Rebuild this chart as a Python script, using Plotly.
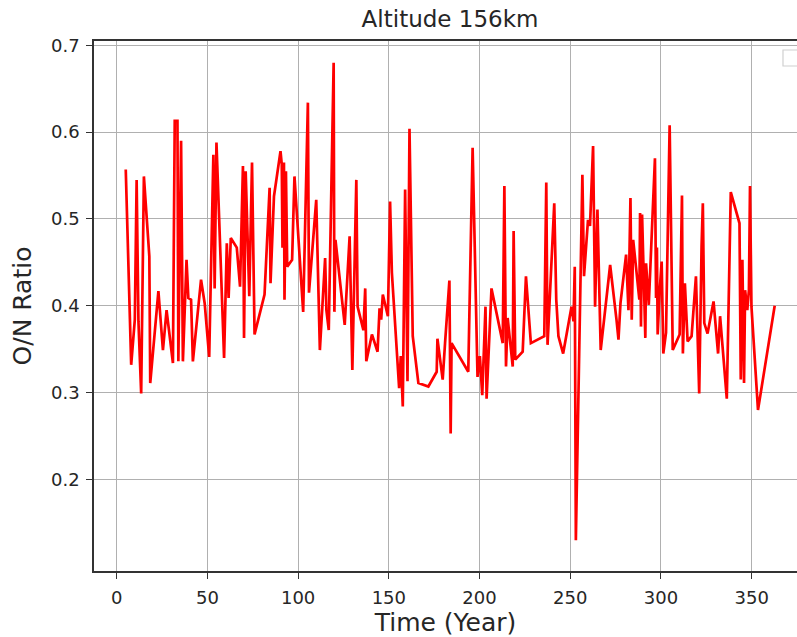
import plotly.graph_objects as go

# O/N ratio series at 156 km altitude
time_year = [
    5, 8, 10, 11, 12, 13.5, 15, 18, 18.5, 23, 25.5, 27.5, 31, 32, 33.5, 34, 35.5, 36.5,
    38.5, 39.5, 41, 42, 46.5, 48.5, 51, 53.3, 54, 55, 59.2, 60.7, 61.7, 62.9, 66.2, 68,
    69.6, 70.2, 71.1, 73.1, 74.6, 76, 81.5, 84.3, 84.8, 86.7, 90.3, 91, 91.4, 92.2, 92.5,
    93.3, 94, 96.7, 98, 102.8, 105.4, 106, 110, 112, 114.9, 115.6, 116.9, 119.6, 120,
    120.6, 125.7, 128.4, 129.9, 132.1, 132.8, 136, 137, 137.6, 140.7, 143.8, 144.9, 145.8,
    146.7, 149.5, 150.7, 151.7, 155.7, 156.6, 157.7, 159, 160.3, 161.4, 163.2, 166.3,
    171.8, 176.4, 176.8, 179.7, 181, 183.4, 184.1, 184.6, 193.8, 196.2, 198.9, 200.2,
    201.5, 203.3, 203.9, 206.6, 212.8, 213.7, 214.6, 215.5, 218.3, 218.8, 219.7, 223.8,
    225.6, 228.3, 235.7, 236.8, 237.5, 241.2, 242.3, 243.5, 246.1, 250.7, 251.8, 252.5,
    253.1, 256.7, 257.6, 259.8, 260.9, 262.6, 263.7, 265, 266.8, 272, 275.5, 276.6, 277.7,
    280.8, 282.1, 283.2, 283.9, 284.7, 288.1, 288.5, 289, 289.6, 290.9, 291.4, 291.8,
    293.3, 296.7, 297.3, 297.8, 298.2, 299.3, 300.4, 301.3, 302.8, 304.8, 306.5, 310.3,
    311.6, 312.1, 313.2, 314.7, 316.9, 319.3, 321.1, 322.4, 323.1, 323.9, 325.7, 329,
    330.3, 331.5, 332.6, 336.3, 338.5, 343.3, 344, 344.9, 345.8, 346.4, 347.6, 348.5,
    349.1, 349.9, 353.5, 362.7,
]
on_ratio = [
    0.557, 0.332, 0.384, 0.545, 0.382, 0.299, 0.549, 0.457, 0.311, 0.417, 0.349, 0.395,
    0.334, 0.613, 0.613, 0.336, 0.590, 0.336, 0.453, 0.409, 0.407, 0.336, 0.430, 0.403,
    0.341, 0.574, 0.420, 0.588, 0.340, 0.472, 0.409, 0.478, 0.467, 0.422, 0.561, 0.363,
    0.555, 0.411, 0.565, 0.367, 0.413, 0.536, 0.426, 0.526, 0.578, 0.563, 0.467, 0.565,
    0.407, 0.555, 0.445, 0.453, 0.549, 0.393, 0.634, 0.415, 0.522, 0.349, 0.455, 0.395,
    0.372, 0.680, 0.393, 0.476, 0.378, 0.480, 0.326, 0.545, 0.399, 0.372, 0.420, 0.336,
    0.367, 0.347, 0.397, 0.384, 0.413, 0.388, 0.520, 0.438, 0.305, 0.342, 0.284, 0.534,
    0.313, 0.604, 0.365, 0.311, 0.307, 0.324, 0.362, 0.315, 0.357, 0.429, 0.253, 0.357,
    0.324, 0.582, 0.318, 0.342, 0.297, 0.399, 0.293, 0.420, 0.357, 0.538, 0.330, 0.386,
    0.330, 0.486, 0.338, 0.347, 0.434, 0.357, 0.365, 0.542, 0.355, 0.518, 0.407, 0.365,
    0.345, 0.399, 0.382, 0.445, 0.130, 0.551, 0.434, 0.499, 0.492, 0.584, 0.399, 0.511,
    0.349, 0.447, 0.384, 0.361, 0.403, 0.459, 0.395, 0.524, 0.384, 0.476, 0.407, 0.507,
    0.376, 0.505, 0.403, 0.363, 0.449, 0.401, 0.570, 0.409, 0.467, 0.367, 0.417, 0.451,
    0.345, 0.369, 0.608, 0.349, 0.367, 0.527, 0.345, 0.426, 0.359, 0.365, 0.434, 0.299,
    0.468, 0.518, 0.380, 0.368, 0.405, 0.372, 0.345, 0.388, 0.293, 0.531, 0.495, 0.315,
    0.453, 0.311, 0.418, 0.395, 0.418, 0.538, 0.399, 0.280, 0.400,
]

x_ticks = [0, 50, 100, 150, 200, 250, 300, 350]
y_ticks = [0.2, 0.3, 0.4, 0.5, 0.6, 0.7]

FONT = "DejaVu Sans"
INK = "#262626"

fig = go.Figure(
    go.Scatter(
        x=time_year,
        y=on_ratio,
        mode="lines",
        line=dict(color="#ff0000", width=2.7),
        showlegend=False,
    )
)

fig.update_layout(
    width=797,
    height=637,
    margin=dict(l=94, r=0, t=41, b=66),
    paper_bgcolor="white",
    plot_bgcolor="white",
    font=dict(family=FONT, color=INK),
    title=dict(
        text="Altitude 156km",
        x=(450 / 797),
        xanchor="center",
        y=1 - 19 / 637,
        yanchor="middle",
        font=dict(family=FONT, size=23, color=INK),
    ),
)

fig.update_xaxes(
    range=[-12.5, 375.0],
    tickvals=x_ticks,
    ticktext=[str(v) for v in x_ticks],
    showgrid=True,
    gridcolor="#b0b0b0",
    gridwidth=1,
    zeroline=False,
    showline=True,
    linecolor="#333333",
    linewidth=1.5,
    mirror=True,
    ticks="outside",
    ticklen=6,
    tickwidth=1.3,
    tickcolor="#333333",
    ticklabelstandoff=4,
    tickfont=dict(family=FONT, size=18, color=INK),
    title=dict(text="Time (Year)", font=dict(family=FONT, size=25, color=INK), standoff=8),
)

fig.update_yaxes(
    range=[0.0945, 0.705],
    tickvals=y_ticks,
    ticktext=[f"{v:.1f}" for v in y_ticks],
    showgrid=True,
    gridcolor="#b0b0b0",
    gridwidth=1,
    zeroline=False,
    showline=True,
    linecolor="#333333",
    linewidth=1.5,
    mirror=False,
    ticks="outside",
    ticklen=6,
    tickwidth=1.3,
    tickcolor="#333333",
    ticklabelstandoff=3,
    tickfont=dict(family=FONT, size=18, color=INK),
    title=dict(text="O/N Ratio", font=dict(family=FONT, size=25, color=INK), standoff=12),
)

# empty legend frame peeking in at the upper right corner
fig.add_shape(
    type="rect",
    xref="paper",
    yref="paper",
    x0=(783 - 94) / (797 - 94),
    x1=(815 - 94) / (797 - 94),
    y0=(571 - 66) / (571 - 41),
    y1=(571 - 50) / (571 - 41),
    line=dict(color="#d0d0d0", width=1.2),
    fillcolor="rgba(255,255,255,0.8)",
)

fig.write_html("out.html")
